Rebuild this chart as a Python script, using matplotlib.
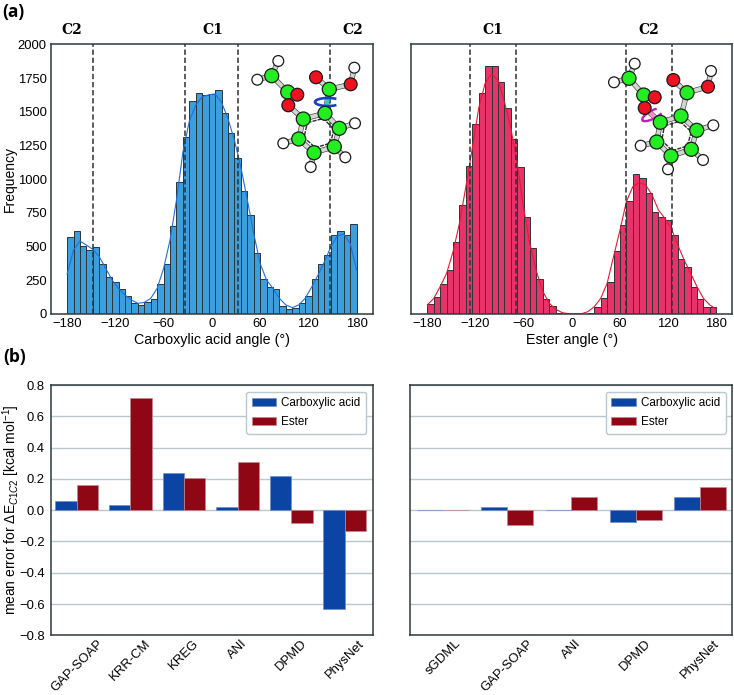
#!/usr/bin/env python3
import numpy as np
import matplotlib

matplotlib.use("Agg")
import matplotlib.pyplot as plt
from matplotlib.patches import Arc, Circle

plt.rcParams["font.family"] = ["Liberation Sans", "DejaVu Sans"]
plt.rcParams["mathtext.fontset"] = "custom"
plt.rcParams["mathtext.rm"] = "Liberation Sans"
plt.rcParams["mathtext.it"] = "Liberation Sans:italic"
plt.rcParams["mathtext.bf"] = "Liberation Sans:bold"

# histogram data, 8 degree bins
bin_edges = np.arange(-180, 181, 8)
acid_counts = [570, 618, 502, 472, 495, 368, 272, 235, 183, 136, 80, 67, 87, 111, 220,
               368, 650, 976, 1310, 1582, 1641, 1624, 1629, 1661, 1488, 1340, 1154, 910, 732, 450,
               257, 200, 183, 60, 40, 42, 79, 133, 257, 368, 438, 583, 613, 583, 665]
ester_counts = [74, 124, 220, 324, 531, 808, 1097, 1409, 1636, 1842, 1836, 1718, 1525, 1295, 1088,
                722, 487, 262, 111, 60, 5, 2, 0, 0, 2, 8, 52, 121, 237, 467,
                658, 838, 1038, 1011, 895, 759, 722, 697, 583, 410, 346, 203, 111, 54, 49]

# density curves read at the bin edges
acid_curve = [296, 474, 541, 511, 479, 425, 338, 252, 190, 141, 104, 79, 86, 116, 190, 338,
              548, 844, 1200, 1430, 1550, 1610, 1625, 1632, 1570, 1450, 1290, 1090, 850, 598, 375,
              252, 190, 116, 67, 47, 67, 116, 198, 289, 388, 499, 578, 593, 523, 326]
ester_curve = [67, 116, 203, 302, 462, 672, 944, 1229, 1525, 1711, 1780, 1735, 1575, 1377, 1117, 784,
               512, 314, 166, 79, 35, 10, 2, 0, 2, 17, 54, 116, 227, 425, 620,
               833, 944, 976, 957, 883, 771, 709, 635, 512, 400, 302, 203, 116, 67, 35]

acid_cuts = [-147.5, -33, 33, 147]
ester_cuts = [-127, -69, 67, 125]
angle_ticks = [-180, -120, -60, 0, 60, 120, 180]

# mean errors
models_left = ["GAP-SOAP", "KRR-CM", "KREG", "ANI", "DPMD", "PhysNet"]
acid_left = [0.06, 0.035, 0.24, 0.02, 0.218, -0.63]
ester_left = [0.16, 0.715, 0.205, 0.31, -0.085, -0.135]
models_right = ["sGDML", "GAP-SOAP", "ANI", "DPMD", "PhysNet"]
acid_right = [0.001, 0.018, 0.002, -0.077, 0.087]
ester_right = [0.001, -0.093, 0.085, -0.065, 0.145]

# molecule sketches, in figure pixels
carbons_a = [(271.7, 75.7), (287.7, 92), (303.3, 119), (325, 113.3), (339.3, 128.3),
             (334.3, 146.7), (314, 152.7), (298.7, 139), (329.3, 89.3)]
oxygens_a = [(297.3, 94.7), (288.3, 105.3), (316, 77.3), (350.7, 84.3)]
hydrogens_a = [(278.3, 61), (257.3, 79.7), (355, 123.3), (345.3, 157.3), (310.7, 167),
               (283.3, 143.3), (354.3, 67.7)]
carbons_b = [(629, 78.3), (643.7, 95), (660.3, 122.3), (681, 116), (696.7, 130.3),
             (691.3, 149.3), (671, 156), (656.7, 142), (687, 92.7)]
oxygens_b = [(654.7, 97.3), (644.7, 108), (673.3, 80), (708, 86.7)]
hydrogens_b = [(634.7, 63.7), (614, 82.3), (713.3, 125.3), (703, 160), (668, 169.3),
               (640.7, 145.7), (711, 71)]
bonds = [("c", 0, "c", 1), ("c", 1, "o", 0), ("c", 1, "o", 1), ("o", 1, "c", 2),
         ("c", 2, "c", 3), ("c", 3, "c", 4), ("c", 4, "c", 5), ("c", 5, "c", 6),
         ("c", 6, "c", 7), ("c", 7, "c", 2), ("c", 3, "c", 8), ("c", 8, "o", 2),
         ("c", 8, "o", 3), ("o", 3, "h", 6), ("c", 0, "h", 0), ("c", 0, "h", 1),
         ("c", 4, "h", 2), ("c", 5, "h", 3), ("c", 6, "h", 4), ("c", 7, "h", 5)]
ring_ids = [2, 3, 4, 5, 6, 7, 2]


def draw_hist(ax, counts, curve, cuts, color, line_color, label):
    ax.hist(bin_edges[:-1] + 4, bins=bin_edges, weights=counts, color=color,
            edgecolor="#2c3438", linewidth=0.7)
    ax.plot(bin_edges, curve, color=line_color, linewidth=0.8)
    for c in cuts:
        ax.axvline(c, color="#2b3236", linestyle="--", linewidth=1.1, dashes=(3.5, 1.8))
    ax.set_xlim(-200, 200)
    ax.set_ylim(0, 2000)
    ax.set_xticks(angle_ticks)
    ax.set_xlabel(label, fontsize=10.3, labelpad=2)
    ax.tick_params(length=0, labelsize=9.4, pad=3)


def draw_bars(ax, models, acid, ester):
    x = np.arange(len(models))
    ax.bar(x - 0.2, acid, 0.4, color="#0c44a4", edgecolor="#6f8fca", linewidth=0.5,
           label="Carboxylic acid", zorder=3)
    ax.bar(x + 0.2, ester, 0.4, color="#8f0615", edgecolor="#c98790", linewidth=0.5,
           label="Ester", zorder=3)
    ax.set_xticks(x)
    ax.set_xticklabels(models, rotation=45, fontsize=9.4)
    ax.set_ylim(-0.8, 0.8)
    ax.set_yticks(np.arange(-0.8, 0.81, 0.2))
    ax.grid(axis="y", color="#b9c9cc", linewidth=1.0, zorder=0)
    ax.set_axisbelow(True)
    ax.tick_params(axis="y", length=0, labelsize=9.4, pad=4)
    ax.tick_params(axis="x", length=0, pad=1.5)
    ax.legend(loc="upper right", fontsize=8.4, frameon=True, edgecolor="#b9c9cc",
              framealpha=1, fancybox=True, borderaxespad=0.58, borderpad=0.46,
              labelspacing=0.6, handlelength=2.1, handleheight=0.72, handletextpad=0.43)


def draw_molecule(ax, carbons, oxygens, hydrogens):
    atoms = {"c": carbons, "o": oxygens, "h": hydrogens}
    for a, i, b, j in bonds:
        p, q = atoms[a][i], atoms[b][j]
        ax.plot([p[0], q[0]], [p[1], q[1]], color="#3a3a3a", linewidth=3.8,
                solid_capstyle="round", zorder=2)
        ax.plot([p[0], q[0]], [p[1], q[1]], color="#cfd8cf", linewidth=2.9,
                solid_capstyle="round", zorder=2.1)
    # aromatic inner ring
    ring = np.array([carbons[i] for i in ring_ids])
    inner = ring[:-1].mean(axis=0) + (ring - ring[:-1].mean(axis=0)) * 0.74
    ax.plot(inner[:, 0], inner[:, 1], color="#2a2a2a", linewidth=1.0, dashes=(3, 0.8), zorder=2.2)
    for pts, r, color in [(hydrogens, 5.4, "white"), (carbons, 7.0, "#22ee22"), (oxygens, 6.4, "#ee1122")]:
        for p in pts:
            ax.add_patch(Circle(p, r, facecolor=color, edgecolor="#1a1a1a", linewidth=0.9, zorder=3))


fig = plt.figure(figsize=(7.34, 6.95), dpi=100)
W, H = 734.0, 695.0


def make_axes(left, right, top, bottom):
    ax = fig.add_axes([left / W, 1 - bottom / H, (right - left) / W, (bottom - top) / H])
    for s in ax.spines.values():
        s.set_color("#30393d")
        s.set_linewidth(1.1)
    return ax


# 1. Histograms
ax_a1 = make_axes(51, 372.7, 44.3, 314)
ax_a2 = make_axes(411.3, 732.3, 44.3, 314)
draw_hist(ax_a1, acid_counts, acid_curve, acid_cuts, "#3a9fdc", "#1f6fe0", "Carboxylic acid angle (°)")
draw_hist(ax_a2, ester_counts, ester_curve, ester_cuts, "#e8336a", "#e8182c", "Ester angle (°)")
ax_a1.set_yticks(np.arange(0, 2001, 250))
ax_a1.set_ylabel("Frequency", fontsize=10)
ax_a1.yaxis.set_label_coords(-0.107, 0.5)
ax_a2.set_yticks([])

# 2. Mean error bars
ax_b1 = make_axes(50.5, 372.7, 385, 635.3)
ax_b2 = make_axes(410.3, 732.3, 385, 635.3)
draw_bars(ax_b1, models_left, acid_left, ester_left)
draw_bars(ax_b2, models_right, acid_right, ester_right)
ax_b1.set_xlim(-0.49, 5.52)
ax_b2.set_xlim(-0.505, 4.5)
ax_b1.set_ylabel(r"mean error for $\Delta$E$_{C1C2}$ [kcal mol$^{-1}$]", fontsize=10)
ax_b1.yaxis.set_label_coords(-0.09, 0.5)
ax_b2.set_yticklabels([])

# 3. Overlay for labels and molecules, pixel coordinates
ov = fig.add_axes([0, 0, 1, 1], facecolor="none")
ov.set_xlim(0, W)
ov.set_ylim(H, 0)
ov.axis("off")
draw_molecule(ov, carbons_a, oxygens_a, hydrogens_a)
draw_molecule(ov, carbons_b, oxygens_b, hydrogens_b)

ov.plot([325, 329.3], [113.3, 89.3], color="#30c8d8", linewidth=3, zorder=2.5)
ov.add_patch(Arc((328, 102), 26, 8, theta1=20, theta2=340, color="#1a40c8", linewidth=1.9, zorder=2.6))
ov.plot([644.7, 660.3], [108, 122.3], color="#f090c8", linewidth=3, zorder=2.5)
ov.add_patch(Arc((653, 114.5), 24, 8, angle=-28, theta1=20, theta2=330, color="#c020b8", linewidth=1.7, zorder=2.6))

for x, s in [(72, "C2"), (213, "C1"), (352.7, "C2"), (493, "C1"), (649, "C2")]:
    ov.text(x, 30, s, fontsize=10, fontweight="bold", family="DejaVu Serif", ha="center", va="center")
ov.text(2, 11.5, "(a)", fontsize=12.5, fontweight="bold", family="Open Sans", ha="left", va="center")
ov.text(3.5, 357, "(b)", fontsize=12.5, fontweight="bold", family="Open Sans", ha="left", va="center")

fig.savefig("out.png", dpi=100)
plt.close(fig)
